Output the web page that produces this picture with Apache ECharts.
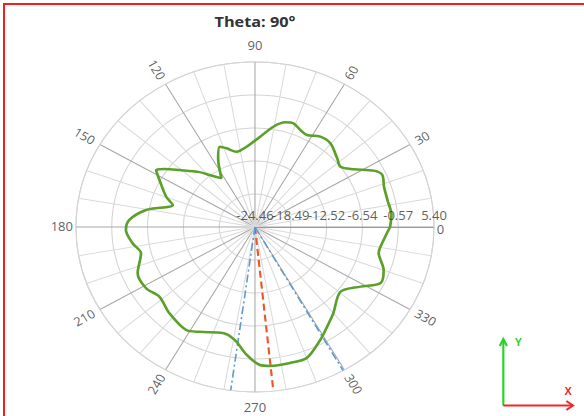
<!DOCTYPE html>
<html><head><meta charset="utf-8">
<script src="https://cdn.jsdelivr.net/npm/echarts@6/dist/echarts.min.js"></script>
<style>
html,body{margin:0;padding:0;background:#fff;overflow:hidden;width:584px;height:416px;}
#frame{position:absolute;left:3px;top:3px;width:700px;height:600px;border:2px solid #f21f1f;box-sizing:border-box;pointer-events:none;z-index:2}
#chart{position:absolute;left:0;top:0;width:538px;height:416px;transform:scaleX(1.085);transform-origin:0 0;}
</style></head><body>
<div id="chart"></div><div id="frame"></div>
<script>
const titleText = 'Theta: 90°';
const gainAngles = [0, 5.4, 12.5, 18.7, 23.9, 27.2, 32.4, 37.4, 42.2, 50.3, 56.3, 62.5, 66.7, 71.1, 75.1, 80.4, 87, 95.5, 102.7, 108.4, 112, 116.3, 122.4, 128.8, 132.9, 140.7, 145.2, 148, 151.9, 159.7, 163.8, 170.4, 176.5, 181.4, 188.2, 194, 203.2, 211.4, 218.3, 227.6, 238.4, 244, 254.3, 260.7, 266.6, 271.9, 275.7, 283.4, 290, 298, 303.7, 310, 320.6, 328.5, 334.2, 340, 347.2, 353.7, 360];
const gainDb = [-1.93, -1.59, -1.83, -1.74, -1.23, -2.15, -4.93, -6.5, -5.95, -4.78, -4.81, -5.69, -5.35, -4.63, -4.86, -6.05, -8.09, -9.86, -10.5, -9.45, -8.79, -10.59, -14.04, -12.4, -10.9, -8.2, -6.07, -5.02, -6.4, -8.67, -10.2, -6.04, -3.47, -2.93, -3.83, -4.87, -3.17, -3.18, -4.13, -3.3, -2.57, -3.35, -4.55, -3.73, -1.26, 0.53, 0.8, 0.83, 0.77, -1.29, -2.78, -4.12, -6.0, -3.8, -1.17, -1.62, -3.3, -2.87, -1.93];
const radiusTicks = [-24.46, -18.49, -12.52, -6.54, -0.57, 5.40];
const angleTicks = [0, 30, 60, 90, 120, 150, 180, 210, 240, 270, 300, 330];
const redLineAngles = [275.9];
const blueLineAngles = [262.2, 299.5];

const rMin = radiusTicks[0];
const rMax = radiusTicks[radiusTicks.length - 1];
const span = +(rMax - rMin).toFixed(4);
const step = +(span / (radiusTicks.length - 1)).toFixed(4);
const R = 165;
const pxPerUnit = R / span;
const toR = v => v - rMin;

function labelGap(a, txt) {
  const w = txt.length * 7;
  if (a === 90 || a === 270) return 16;
  if (a === 0 || a === 180) return w / 2 + 2.5;
  return w / 2 + 6;
}
function labelRot(a) {
  if (a % 90 === 0) return 0;
  if (a > 90 && a < 270) return a - 180;
  return a;
}

const chart = echarts.init(document.getElementById('chart'), null, {renderer: 'svg'});
const txtColor = '#333333';
const font = 'Open Sans';

const series = [];
series.push({
  type: 'line', coordinateSystem: 'polar', name: 'gain',
  data: gainAngles.map((a, i) => [toR(gainDb[i]), a]),
  showSymbol: false, symbol: 'none', smooth: 0.3, z: 5,
  lineStyle: {color: '#5ba02a', width: 2.5}
});
redLineAngles.forEach(a => series.push({
  type: 'line', coordinateSystem: 'polar', data: [[0, a], [span, a]],
  symbol: 'none', z: 4, lineStyle: {color: '#f0552a', width: 2, type: [7, 4]}
}));
blueLineAngles.forEach(a => series.push({
  type: 'line', coordinateSystem: 'polar', data: [[0, a], [span, a]],
  symbol: 'none', z: 4, lineStyle: {color: '#5b9bd5', width: 1.5, type: [8, 3, 2, 3]}
}));
// angle labels
series.push({
  type: 'scatter', coordinateSystem: 'polar', silent: true, clip: false,
  symbolSize: 0,
  data: angleTicks.map(a => {
    const t = String(a);
    return {value: [span + labelGap(a, t) / pxPerUnit, a],
      label: {rotate: labelRot(a), formatter: t, offset: a === 0 ? [0, 3] : [0, 0]}};
  }),
  label: {show: true, position: 'inside', color: txtColor, fontSize: 12, fontFamily: font}
});
// radius labels
series.push({
  type: 'scatter', coordinateSystem: 'polar', silent: true, clip: false,
  symbolSize: 0, z: 6,
  data: radiusTicks.map(t => ({value: [toR(t), 0], label: {formatter: t.toFixed(2)}})),
  label: {show: true, position: 'top', distance: 5, color: txtColor, fontSize: 12, fontFamily: font},
  labelLayout: {hideOverlap: false}
});

chart.setOption({
  animation: false,
  backgroundColor: '#fff',
  title: {text: titleText, left: 235, top: 14, textAlign: 'center', padding: 0,
    textStyle: {fontFamily: font, fontWeight: 'bold', fontSize: 15, color: txtColor}},
  polar: {center: [235, 227], radius: R},
  angleAxis: {type: 'value', min: 0, max: 360, interval: 30, startAngle: 0, clockwise: false,
    axisLine: {show: true, lineStyle: {color: '#d4d4d4', width: 1}},
    axisTick: {show: false}, axisLabel: {show: false},
    splitLine: {show: true, lineStyle: {color: '#a8a8a8', width: 1}},
    minorTick: {show: false, splitNumber: 3},
    minorSplitLine: {show: true, lineStyle: {color: '#dadada', width: 1}}},
  radiusAxis: {type: 'value', min: 0, max: span, interval: step,
    axisLine: {show: true, lineStyle: {color: '#999', width: 1}},
    axisTick: {show: false},
    axisLabel: {show: false},
    splitLine: {show: true, lineStyle: {color: '#d4d4d4', width: 1}}},
  graphic: [
    {type: 'polyline', shape: {points: [[463.9, 405.5], [463.9, 339]]}, style: {stroke: '#2bd02b', lineWidth: 2, fill: null}},
    {type: 'polyline', shape: {points: [[460.6, 346], [463.9, 339], [467.2, 346]]}, style: {stroke: '#2bd02b', lineWidth: 2, fill: null}},
    {type: 'text', x: 477.7, y: 343, style: {text: 'Y', fill: '#2bd02b', font: 'bold 10px Arial', align: 'center', verticalAlign: 'middle'}},
    {type: 'polyline', shape: {points: [[463.9, 405.5], [528.1, 405.5]]}, style: {stroke: '#f02828', lineWidth: 2, fill: null}},
    {type: 'polyline', shape: {points: [[522, 401], [528.1, 405.5], [522, 410]]}, style: {stroke: '#f02828', lineWidth: 2, fill: null}},
    {type: 'text', x: 523.5, y: 392, style: {text: 'X', fill: '#f02828', font: 'bold 10px Arial', align: 'center', verticalAlign: 'middle'}}
  ],
  series: series
});
</script>
</body></html>
